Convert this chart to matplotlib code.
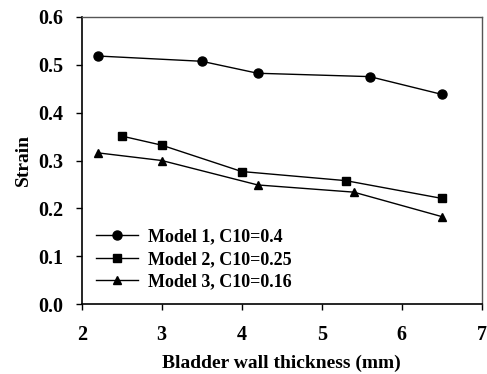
import matplotlib.pyplot as plt

# ----------------------------
# Data
# ----------------------------
x_m1 = [2.2, 3.5, 4.2, 5.6, 6.5]
y_m1 = [0.518, 0.507, 0.482, 0.475, 0.438]

x_m2 = [2.5, 3.0, 4.0, 5.3, 6.5]
y_m2 = [0.351, 0.332, 0.277, 0.258, 0.221]

x_m3 = [2.2, 3.0, 4.2, 5.4, 6.5]
y_m3 = [0.316, 0.300, 0.249, 0.234, 0.183]

labels = ["Model 1, C10=0.4", "Model 2, C10=0.25", "Model 3, C10=0.16"]
x_ticks = [2, 3, 4, 5, 6, 7]
y_ticks = [0.0, 0.1, 0.2, 0.3, 0.4, 0.5, 0.6]

plt.rcParams['font.family'] = ['Liberation Serif', 'DejaVu Serif']
plt.rcParams['font.weight'] = 'bold'

fig = plt.figure(figsize=(4.87, 3.74), dpi=100)
ax = fig.add_axes([81.7 / 487, 1 - 304.3 / 374, 400 / 487, 287.6 / 374])

ax.plot(x_m1, y_m1, color='black', lw=1, marker='o', ms=6.5, label=labels[0])
ax.plot(x_m2, y_m2, color='black', lw=1, marker='s', ms=5.5, label=labels[1])
ax.plot(x_m3, y_m3, color='black', lw=1, marker='^', ms=6, label=labels[2])

ax.set_xlim(2, 7)
ax.set_ylim(0, 0.6)
ax.set_xticks(x_ticks)
ax.set_yticks(y_ticks)
ax.set_yticklabels([f"{v:.1f}" for v in y_ticks])
ax.tick_params(direction='out', length=4, width=1, labelsize=14.5)
ax.tick_params(axis='y', pad=9)
ax.tick_params(axis='x', pad=11)

for side in ['left', 'bottom']:
    ax.spines[side].set_color('black')
    ax.spines[side].set_linewidth(1.2)
for side in ['top', 'right']:
    ax.spines[side].set_color('#555555')
    ax.spines[side].set_linewidth(1)

ax.set_xlabel('Bladder wall thickness (mm)', fontsize=14, fontweight='bold', labelpad=7)
ax.set_ylabel('Strain', fontsize=14, fontweight='bold', labelpad=5)

leg = ax.legend(loc='lower left', bbox_to_anchor=(0.018, 0.023), frameon=False,
                prop={'family': 'Liberation Serif', 'weight': 'bold', 'size': 13},
                handlelength=2.3, handletextpad=0.6, labelspacing=0.3,
                borderaxespad=0.0)

fig.savefig('out.png', dpi=100)
